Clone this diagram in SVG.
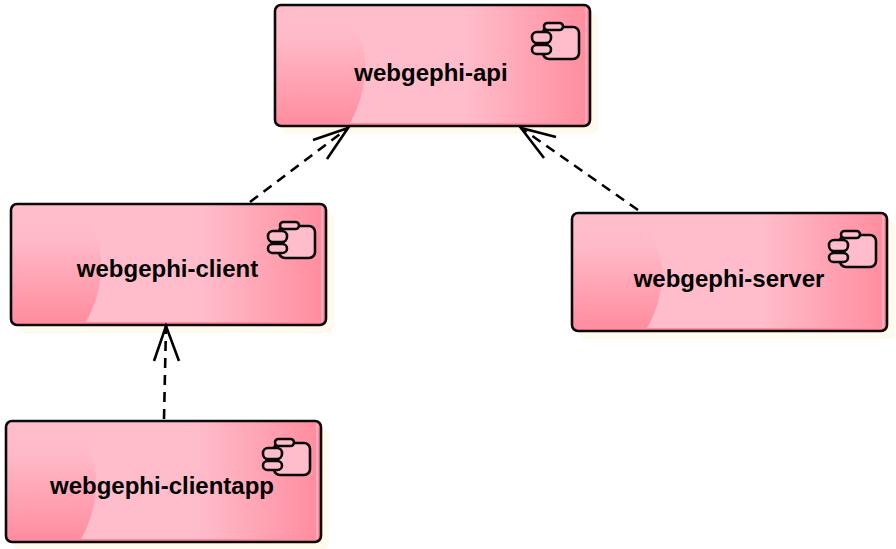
<svg xmlns="http://www.w3.org/2000/svg" width="896" height="549" viewBox="0 0 896 549">
<style>
.shadow{fill:#FEFAEE}
.base{fill:url(#h);stroke:none}
.edge{fill:none;stroke:#0a0a0a;stroke-width:2.6}
.ic{stroke:#0a0a0a;stroke-width:2.6}
.lbl{font:bold 24px "Liberation Sans",Arial,sans-serif;fill:#000;text-anchor:middle}
.dash{fill:none;stroke:#000;stroke-width:2.6;stroke-dasharray:10 7}
.head{fill:none;stroke:#000;stroke-width:2.6}
</style>
<defs>
<linearGradient id="h" x1="0" x2="1" y1="0" y2="0">
<stop offset="0" stop-color="#FFBDCB"/><stop offset="0.6" stop-color="#FFBDCB"/><stop offset="1" stop-color="#FF8C9E"/>
</linearGradient>
<linearGradient id="v" x1="0" x2="0" y1="0" y2="1">
<stop offset="0" stop-color="#FFBDCB"/><stop offset="0.25" stop-color="#FFBAC9"/><stop offset="1" stop-color="#FF8C9E"/>
</linearGradient>
<g id="icon">
<rect class="ic" x="268" y="22" width="36" height="32" rx="6" fill="#FFBDCB"/>
<rect class="ic" x="269" y="18" width="19" height="7" rx="3.500" fill="#FFBDCB"/>
<rect class="ic" x="257" y="27" width="19" height="11" rx="5" fill="#FFBDCB"/>
<rect class="ic" x="257" y="40" width="19" height="9" rx="4.500" fill="#FFBDCB"/>
</g>
<g id="body">
<rect class="shadow" x="8" y="8" width="315" height="121" rx="6"/>
<rect class="base" x="0" y="0" width="315" height="121" rx="6"/>
<path d="M2 4Q58 8 78 20Q92 40 90 70Q88 95 74 120H5Q1 120 1 116Z" fill="url(#v)"/>
<path d="M74 118H314V120H74Z" fill="#FF8C9E"/>
<path d="M311 3V118" stroke="#FFC8D4" stroke-width="1" fill="none"/>
<rect class="edge" x="0" y="0" width="315" height="121" rx="6"/>
<use href="#icon"/>
</g>
<g id="bodyS">
<rect class="shadow" x="8" y="8" width="315" height="118" rx="6"/>
<rect class="base" x="0" y="0" width="315" height="118" rx="6"/>
<path d="M2 4Q58 8 78 20Q92 40 90 68Q88 93 74 117H5Q1 117 1 113Z" fill="url(#v)"/>
<path d="M74 115H314V117H74Z" fill="#FF8C9E"/>
<path d="M311 3V115" stroke="#FFC8D4" stroke-width="1" fill="none"/>
<rect class="edge" x="0" y="0" width="315" height="118" rx="6"/>
<use href="#icon"/>
</g>
</defs>
<g id="node-api" transform="translate(275,5)"><use href="#body"/><text class="lbl" x="156" y="76">webgephi-api</text></g>
<g id="node-client" transform="translate(11,204)"><use href="#body"/><text class="lbl" x="156.500" y="73">webgephi-client</text></g>
<g id="node-server" transform="translate(572,213)"><use href="#bodyS"/><text class="lbl" x="157" y="74">webgephi-server</text></g>
<g id="node-clientapp" transform="translate(6,421)"><use href="#body"/><text class="lbl" x="156" y="73">webgephi-clientapp</text></g>
<g id="connectors">
<path class="dash" d="M250 202L348 128"/>
<path class="head" d="M313 140L348 128L327 159"/>
<path class="dash" d="M638 210L521 128"/>
<path class="head" d="M556 137L521 128L544 158"/>
<path class="dash" d="M164 419L166 326"/>
<path class="head" d="M154 361L166 326L179 361"/>
</g>
</svg>
